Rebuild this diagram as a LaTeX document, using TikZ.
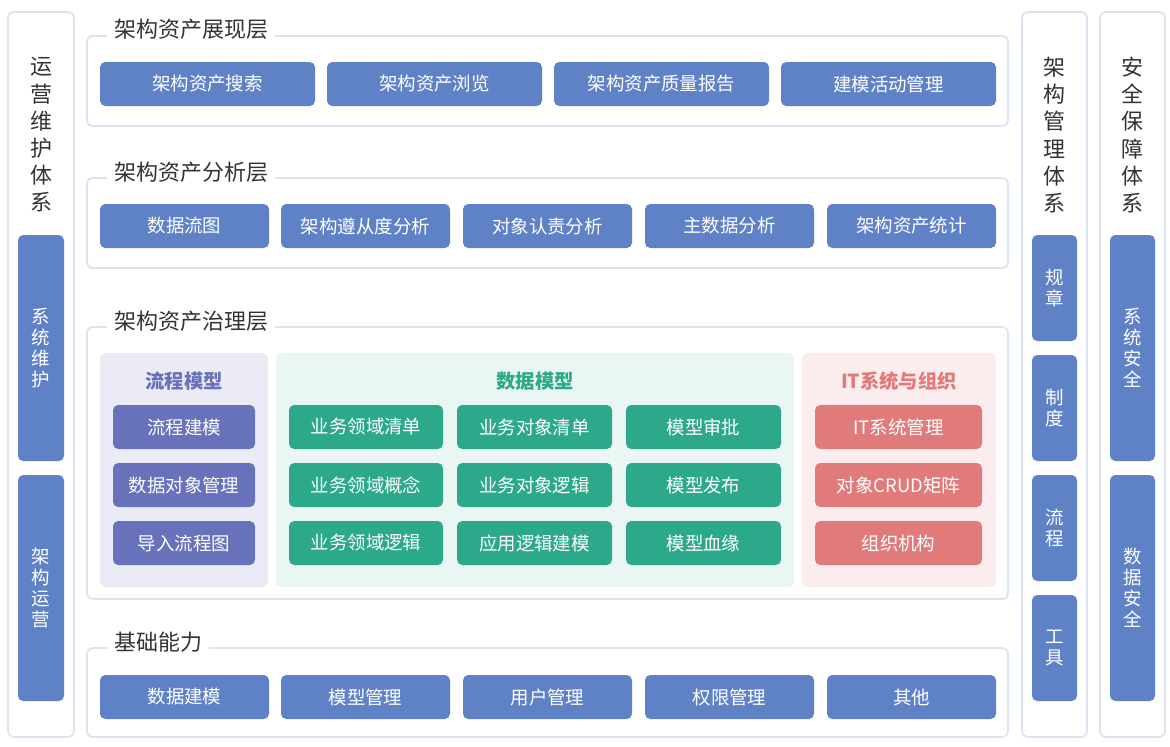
\documentclass[tikz,border=0pt]{standalone}
\usepackage{fontspec}
\setmainfont{Noto Sans CJK SC}
\usetikzlibrary{positioning}
\definecolor{boxblue}{HTML}{5F82C6}
\definecolor{boxpurple}{HTML}{6772BA}
\definecolor{boxgreen}{HTML}{2BA98A}
\definecolor{boxred}{HTML}{E07A7B}
\definecolor{panelline}{HTML}{DCE4F2}
\definecolor{titlegray}{HTML}{333333}
\tikzset{
  panel/.style={draw=panelline, line width=1pt, rounded corners=3pt, fill=white},
  item/.style={rounded corners=3pt, text=white, font=\fontsize{10.5}{12}\selectfont},
  layertitle/.style={fill=white, text=titlegray, anchor=west, inner xsep=4pt, font=\fontsize{12.5}{14}\selectfont},
  coltitle/.style={text=titlegray, align=center, font=\fontsize{12.5}{15.5}\selectfont},
  subhead/.style={font=\fontsize{11}{13}\selectfont\bfseries},
}
% box by pixel corners
\newcommand{\itembox}[6]{\fill[#1, rounded corners=3pt] (#2,#3) rectangle (#4,#5);
  \node[item] at ({(#2+#4)/2},{(#3+#5)/2}) {#6};}
\begin{document}
\begin{tikzpicture}[x=0.02cm, y=-0.02cm]
\useasboundingbox (0,0) rectangle (1170,747);

% 1. 两侧的体系
\draw[panel] (8,12) rectangle (74,737);
\node[coltitle] (yw) at (41,135) {运\\营\\维\\护\\体\\系};
\itembox{boxblue}{18}{235}{64}{461}{\parbox{1em}{\centering 系\\统\\维\\护}}
\itembox{boxblue}{18}{475}{64}{701}{\parbox{1em}{\centering 架\\构\\运\\营}}

\draw[panel] (1022,12) rectangle (1087,737);
\node[coltitle] (gl) at (1054,135) {架\\构\\管\\理\\体\\系};
\foreach \y/\t in {235/{规\\章}, 355/{制\\度}, 475/{流\\程}, 595/{工\\具}}
  {\itembox{boxblue}{1032}{\y}{1077}{\y+106}{\parbox{1em}{\centering \t}}}

\draw[panel] (1100,12) rectangle (1165,737);
\node[coltitle] (aq) at (1132,135) {安\\全\\保\\障\\体\\系};
\itembox{boxblue}{1110}{235}{1155}{461}{\parbox{1em}{\centering 系\\统\\安\\全}}
\itembox{boxblue}{1110}{475}{1155}{701}{\parbox{1em}{\centering 数\\据\\安\\全}}

% 2. 展现层
\draw[panel] (87,36) rectangle (1008,126);
\node[layertitle] (zx) at (107,29) {架构资产展现层};
\foreach \x/\t in {100/架构资产搜索, 327/架构资产浏览, 554/架构资产质量报告, 781/建模活动管理}
  {\itembox{boxblue}{\x}{62}{\x+215}{106}{\t}}

% 3. 分析层
\draw[panel] (87,178) rectangle (1008,268);
\node[layertitle] (fx) at (107,172) {架构资产分析层};
\foreach \x/\t in {100/数据流图, 281/架构遵从度分析, 463/对象认责分析, 645/主数据分析, 827/架构资产统计}
  {\itembox{boxblue}{\x}{204}{\x+169}{248}{\t}}

% 4. 治理层
\draw[panel] (87,327) rectangle (1008,599);
\node[layertitle] (zl) at (107,321) {架构资产治理层};
\fill[boxpurple!14, rounded corners=3pt] (100,353) rectangle (268,587);
\fill[boxgreen!10, rounded corners=3pt] (276,353) rectangle (794,587);
\fill[boxred!14, rounded corners=3pt] (802,353) rectangle (996,587);
\node[subhead, text=boxpurple] (lc) at (184,381) {流程模型};
\node[subhead, text=boxgreen] (sj) at (535,381) {数据模型};
\node[subhead, text=boxred] (it) at (899,381) {IT系统与组织};
\foreach \y/\t in {405/流程建模, 463/数据对象管理, 521/导入流程图}
  {\itembox{boxpurple}{113}{\y}{255}{\y+44}{\t}}
\foreach \y/\a/\b/\c in {405/业务领域清单/业务对象清单/模型审批,
    463/业务领域概念/业务对象逻辑/模型发布,
    521/业务领域逻辑/应用逻辑建模/模型血缘}
  {\itembox{boxgreen}{289}{\y}{443}{\y+44}{\a}
   \itembox{boxgreen}{457}{\y}{612}{\y+44}{\b}
   \itembox{boxgreen}{626}{\y}{781}{\y+44}{\c}}
\foreach \y/\t in {405/IT系统管理, 463/对象CRUD矩阵, 521/组织机构}
  {\itembox{boxred}{815}{\y}{982}{\y+44}{\t}}

% 5. 基础能力
\draw[panel] (87,648) rectangle (1008,737);
\node[layertitle] (jc) at (107,642) {基础能力};
\foreach \x/\t in {100/数据建模, 281/模型管理, 463/用户管理, 645/权限管理, 827/其他}
  {\itembox{boxblue}{\x}{675}{\x+169}{719}{\t}}
\end{tikzpicture}
\end{document}
